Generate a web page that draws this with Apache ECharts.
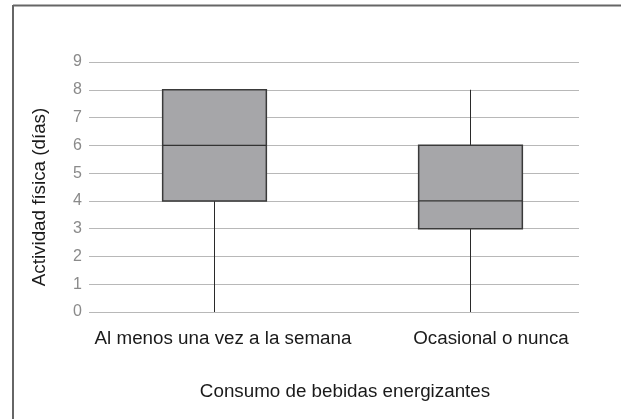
<!DOCTYPE html>
<html>
<head>
<meta charset="utf-8">
<script src="https://cdn.jsdelivr.net/npm/echarts@6/dist/echarts.min.js"></script>
<style>
  html, body { margin: 0; padding: 0; background: #fff; }
  #chart { width: 621px; height: 419px; }
</style>
</head>
<body>
<div id="chart"></div>
<script>
// categorias y cuartiles
const categories = ["Al menos una vez a la semana", "Ocasional o nunca"];
const minVals = [0, 0];
const q1Vals = [4, 3];
const medianVals = [6, 4];
const q3Vals = [8, 6];
const maxVals = [8, 8];
const yTicks = [0, 9, 1]; // min, max, intervalo

const FONT = "'Liberation Sans', Arial, sans-serif";
const FS = 18.8;

const boxData = categories.map((c, i) => [i, minVals[i], q1Vals[i], medianVals[i], q3Vals[i], maxVals[i]]);

const chart = echarts.init(document.getElementById("chart"));

function renderBox(params, api) {
  const x = api.value(0);
  const lo = api.coord([x, api.value(1)]);
  const q1 = api.coord([x, api.value(2)]);
  const med = api.coord([x, api.value(3)]);
  const q3 = api.coord([x, api.value(4)]);
  const hi = api.coord([x, api.value(5)]);
  const w = api.size([1, 0])[0] * 0.405;
  const cx = Math.round(lo[0]) + 0.5;
  const lineStyle = { stroke: "#2a2a2a", lineWidth: 1 };
  return {
    type: "group",
    children: [
      { type: "line", shape: { x1: cx, y1: lo[1], x2: cx, y2: q1[1] }, style: lineStyle },
      { type: "line", shape: { x1: cx, y1: q3[1], x2: cx, y2: hi[1] }, style: lineStyle },
      {
        type: "rect",
        shape: { x: cx - w / 2, y: q3[1], width: w, height: q1[1] - q3[1] },
        style: { fill: "#a6a6a9", stroke: "#3a3a3a", lineWidth: 1.5 }
      },
      { type: "line", shape: { x1: cx - w / 2, y1: med[1], x2: cx + w / 2, y2: med[1] }, style: { stroke: "#333", lineWidth: 1.3 } }
    ]
  };
}

const labelShift = [18, 42];

chart.setOption({
  animation: false,
  backgroundColor: "#fff",
  textStyle: { fontFamily: FONT },
  graphic: [
    // marco superior e izquierdo
    { type: "line", shape: { x1: 13, y1: 5.5, x2: 621, y2: 5.5 }, style: { stroke: "#666", lineWidth: 2 } },
    { type: "line", shape: { x1: 13, y1: 5, x2: 13, y2: 419 }, style: { stroke: "#666", lineWidth: 2 } }
  ],
  grid: [
    { left: 89, right: 42, top: 62, bottom: 107 },
    { left: 86, right: 23, top: 62, bottom: 107 }
  ],
  xAxis: [
    { type: "category", gridIndex: 0, data: categories, show: false },
    {
      type: "category",
      gridIndex: 1,
      data: categories,
      axisLine: { show: false },
      axisTick: { show: false },
      axisLabel: {
        interval: 0,
        hideOverlap: false,
        margin: 17,
        color: "#1a1a1a",
        fontSize: FS,
        fontFamily: FONT,
        formatter: (v, i) => "{l" + i + "|" + v + "}",
        rich: {
          l0: { fontSize: FS, color: "#1a1a1a", fontFamily: FONT, padding: [0, 0, 0, labelShift[0]] },
          l1: { fontSize: FS, color: "#1a1a1a", fontFamily: FONT, padding: [0, 0, 0, labelShift[1]] }
        }
      },
      name: "Consumo de bebidas energizantes",
      nameLocation: "middle",
      nameGap: 70,
      nameTextStyle: { color: "#1a1a1a", fontSize: FS, fontFamily: FONT, padding: [0, 0, 0, 6] }
    }
  ],
  yAxis: [
    {
      type: "value",
      gridIndex: 0,
      min: yTicks[0],
      max: yTicks[1],
      interval: yTicks[2],
      axisLine: { show: false },
      axisTick: { show: false },
      axisLabel: { color: "#8a8a8a", fontSize: 16, margin: 7, fontFamily: FONT },
      splitLine: { lineStyle: { color: "#b8b8b8", width: 1 } },
      name: "Actividad física (días)",
      nameLocation: "middle",
      nameGap: 40,
      nameRotate: 90,
      nameTextStyle: { color: "#1a1a1a", fontSize: FS, fontFamily: FONT, padding: [0, 20, 0, 0] }
    },
    {
      type: "value",
      gridIndex: 1,
      min: yTicks[0],
      max: yTicks[1],
      interval: yTicks[2],
      show: false,
      splitLine: { show: false }
    }
  ],
  series: [
    {
      type: "custom",
      xAxisIndex: 1,
      yAxisIndex: 1,
      renderItem: renderBox,
      encode: { x: 0, y: [1, 2, 3, 4, 5] },
      data: boxData
    }
  ]
});
</script>
</body>
</html>
